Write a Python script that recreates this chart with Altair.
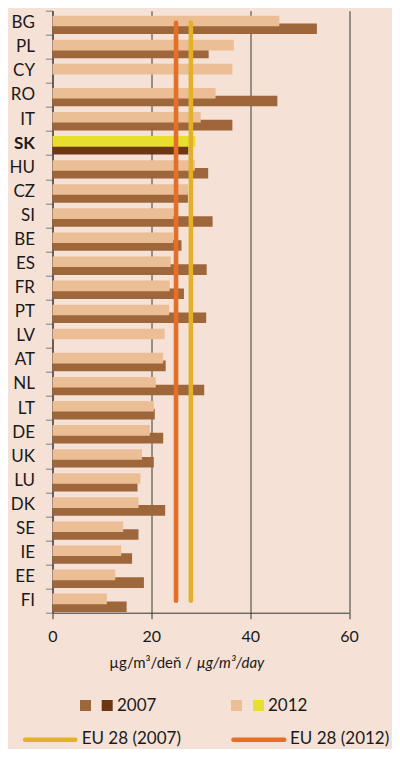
import altair as alt
import pandas as pd

# ---- data ----
countries = ["BG", "PL", "CY", "RO", "IT", "SK", "HU", "CZ", "SI", "BE", "ES", "FR", "PT",
             "LV", "AT", "NL", "LT", "DE", "UK", "LU", "DK", "SE", "IE", "EE", "FI"]
values_2012 = [45.9, 36.7, 36.4, 33.0, 30.0, 28.9, 28.8, 27.4, 24.5, 24.4, 23.9, 23.7, 23.6,
               22.7, 22.4, 20.9, 20.5, 19.7, 18.1, 17.8, 17.4, 14.3, 13.9, 12.7, 11.0]
values_2007 = [53.5, 31.6, None, 45.5, 36.4, 27.5, 31.5, 27.4, 32.4, 26.1, 31.2, 26.6, 31.1,
               None, 22.9, 30.7, 20.7, 22.4, 20.5, 17.2, 22.8, 17.4, 16.1, 18.5, 15.0]
highlight = "SK"
eu_labels = ["EU 28 (2007)", "EU 28 (2012)"]
eu_values = [28.0, 25.0]
x_ticks = [0, 20, 40, 60]
year_labels = ["2007", "2012"]

# ---- style ----
FONT = "Lato"
C_BG = "#F5E1D5"
C_2007 = "#9E663B"
C_2007_HI = "#6D3716"
C_2012 = "#EBBE96"
C_2012_HI = "#E7DE2E"
C_EU = ["#E3B02A", "#E46F29"]
C_TXT = "#1a1a1a"

STEP = 24.08
W = 296.5
H = STEP * len(countries)

rows07 = [{"country": c, "value": v, "color": C_2007_HI if c == highlight else C_2007}
          for c, v in zip(countries, values_2007) if v is not None]
rows12 = [{"country": c, "value": v, "color": C_2012_HI if c == highlight else C_2012}
          for c, v in zip(countries, values_2012) if v is not None]
df07 = pd.DataFrame(rows07)
df12 = pd.DataFrame(rows12)
dfeu = pd.DataFrame({"label": eu_labels, "value": eu_values,
                     "y0": countries[0], "y1": countries[-1], "color": C_EU})

xscale = alt.Scale(domain=[0, 60], nice=False, zero=True)
yscale = alt.Scale(domain=countries, paddingInner=0, paddingOuter=0)

xaxis = alt.Axis(values=x_ticks, title=None, grid=True, gridColor="#3a3a3a", gridWidth=1,
                 labelFont=FONT, labelFontSize=16, labelColor=C_TXT, labelPadding=10,
                 tickSize=6, tickColor="#333333", domainColor="#333333", labelFlush=False)
yaxis = alt.Axis(title=None, labelFont=FONT, labelFontSize=17, labelColor=C_TXT,
                 labelPadding=11, tickSize=7, tickColor="#808080", tickBand="extent",
                 domainColor="#333333", grid=False,
                 labelFontWeight={"condition": {"test": "datum.value == 'SK'", "value": "bold"},
                                  "value": "normal"})

bars07 = alt.Chart(df07).mark_bar(height=10.6, yOffset=6.06).encode(
    x=alt.X("value:Q", scale=xscale, axis=xaxis),
    y=alt.Y("country:N", scale=yscale, sort=countries, axis=yaxis),
    color=alt.Color("color:N", scale=None),
)
bars12 = alt.Chart(df12).mark_bar(height=10.6, yOffset=-1.74).encode(
    x=alt.X("value:Q", scale=xscale),
    y=alt.Y("country:N", scale=yscale, sort=countries),
    color=alt.Color("color:N", scale=None),
)
rules = alt.Chart(dfeu).mark_rule(strokeWidth=4.6, strokeCap="round").encode(
    x=alt.X("value:Q", scale=xscale),
    y=alt.Y("y0:N", scale=yscale, sort=countries),
    y2="y1:N",
    color=alt.Color("color:N", scale=None),
)

one = pd.DataFrame({"k": [0]})


def txt(s, x, y, size, style="normal", align="left"):
    return alt.Chart(one).mark_text(text=s, font=FONT, fontSize=size, fontStyle=style,
                                    align=align, baseline="alphabetic", color=C_TXT).encode(
        x=alt.value(x), y=alt.value(y))


def box(x0, x1, y0, y1, color):
    return alt.Chart(one).mark_rect(color=color).encode(
        x=alt.value(x0), x2=alt.value(x1), y=alt.value(y0), y2=alt.value(y1))


def line(x0, x1, y, color):
    return alt.Chart(one).mark_rule(color=color, strokeWidth=4.6, strokeCap="round").encode(
        x=alt.value(x0), x2=alt.value(x1), y=alt.value(y))


title_a = txt("µg/m³/deň /", 139.5, 657.5, 15, align="right")
title_b = txt("µg/m³/day", 144.2, 657.5, 15, style="italic")

ROW2_LINE, ROW2_TEXT = 729.0, 733.0
legend = [
    box(27.5, 38.5, 689.3, 700.3, C_2007), box(49.2, 60.2, 689.3, 700.3, C_2007_HI),
    txt(year_labels[0], 64.5, 700.3, 17),
    box(178.5, 189.5, 689.3, 700.3, C_2012), box(200.5, 211.5, 689.3, 700.3, C_2012_HI),
    txt(year_labels[1], 215.5, 700.3, 17),
    line(-27.3, 22.7, ROW2_LINE, C_EU[0]), txt(eu_labels[0], 29.2, ROW2_TEXT, 17),
    line(181, 231.7, ROW2_LINE, C_EU[1]), txt(eu_labels[1], 237.5, ROW2_TEXT, 17),
]

# page has an 8px margin: plot origin at page (52.5, 10.7); svg is 384 x 741
PAD_L, PAD_T = 44.5, 2.7
chart = alt.layer(bars07, bars12, rules, title_a, title_b, *legend).properties(
    width=W, height=H,
    autosize=alt.AutoSizeParams(type="none"),
    padding={"left": PAD_L, "top": PAD_T, "right": 384 - PAD_L - W,
             "bottom": 741 - PAD_T - H},
    background=C_BG,
    usermeta={"embedOptions": {"defaultStyle":
        "html,body{background:#F5E1D5;overflow:hidden;}svg{overflow:visible;}"}},
).configure_view(strokeOpacity=0)

chart.save("out.html", embed_options={"renderer": "svg", "actions": False})
